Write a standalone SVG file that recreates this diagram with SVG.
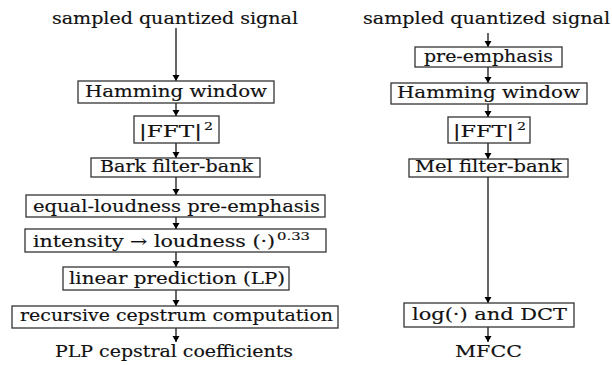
<svg xmlns="http://www.w3.org/2000/svg" width="612" height="365" viewBox="0 0 612 365">
<defs>
<marker id="ah" markerUnits="userSpaceOnUse" markerWidth="8" markerHeight="8" refX="6" refY="3.5" orient="auto">
<path d="M0,0 L6,3.5 L0,7 Z" fill="#000"/>
</marker>
</defs>
<style>
text{font-family:'DejaVu Serif','Liberation Serif',serif;font-size:16px;fill:#111;stroke:#111;stroke-width:0.15;}
.sup{font-size:11px;}
rect{fill:#fff;stroke:#333;stroke-width:1.3;}
.c line{stroke:#000;stroke-width:1.2;marker-end:url(#ah);}
</style>
<rect x="0" y="0" width="612" height="365" style="fill:#fff;stroke:none"/>
<g class="c" id="connectors">
<line x1="176" y1="28" x2="176" y2="81"/>
<line x1="176" y1="103" x2="176" y2="116"/>
<line x1="176" y1="143" x2="176" y2="158"/>
<line x1="176" y1="177" x2="176" y2="195"/>
<line x1="176" y1="217" x2="176" y2="229"/>
<line x1="176" y1="252" x2="176" y2="267"/>
<line x1="176" y1="290" x2="176" y2="306"/>
<line x1="176" y1="328" x2="176" y2="342"/>
<line x1="488" y1="33" x2="488" y2="47"/>
<line x1="488" y1="67" x2="488" y2="83"/>
<line x1="488" y1="104" x2="488" y2="117"/>
<line x1="488" y1="143" x2="488" y2="159"/>
<line x1="488" y1="177" x2="488" y2="303"/>
<line x1="488" y1="327" x2="488" y2="342"/>
</g>
<g id="left-input"><text x="52" y="24" textLength="246" lengthAdjust="spacingAndGlyphs">sampled quantized signal</text></g>
<g id="left-hamming"><rect x="78" y="81" width="196" height="22"/><text x="85" y="97" textLength="182" lengthAdjust="spacingAndGlyphs">Hamming window</text></g>
<g id="left-fft"><rect x="134" y="116" width="85" height="27"/><text x="139" y="137" textLength="63" lengthAdjust="spacingAndGlyphs">|FFT|</text><text class="sup" x="204" y="130" textLength="9" lengthAdjust="spacingAndGlyphs">2</text></g>
<g id="left-bark"><rect x="91" y="158" width="169" height="19"/><text x="100" y="172" textLength="153" lengthAdjust="spacingAndGlyphs">Bark filter-bank</text></g>
<g id="left-equal"><rect x="26" y="195" width="299" height="22"/><text x="33" y="212" textLength="287" lengthAdjust="spacingAndGlyphs">equal-loudness pre-emphasis</text></g>
<g id="left-intensity"><rect x="25" y="229" width="301" height="23"/><text x="33" y="247" textLength="242" lengthAdjust="spacingAndGlyphs">intensity → loudness (·)</text><text class="sup" x="277" y="240" textLength="33" lengthAdjust="spacingAndGlyphs">0.33</text></g>
<g id="left-lp"><rect x="63" y="267" width="226" height="23"/><text x="69" y="284" textLength="216" lengthAdjust="spacingAndGlyphs">linear prediction (LP)</text></g>
<g id="left-cepstrum"><rect x="12" y="306" width="326" height="22"/><text x="20" y="321" textLength="313" lengthAdjust="spacingAndGlyphs">recursive cepstrum computation</text></g>
<g id="left-output"><text x="55" y="357" textLength="238" lengthAdjust="spacingAndGlyphs">PLP cepstral coefficients</text></g>
<g id="right-input"><text x="363" y="24" textLength="247" lengthAdjust="spacingAndGlyphs">sampled quantized signal</text></g>
<g id="right-preemph"><rect x="415" y="47" width="147" height="20"/><text x="424" y="62" textLength="129" lengthAdjust="spacingAndGlyphs">pre-emphasis</text></g>
<g id="right-hamming"><rect x="391" y="83" width="196" height="21"/><text x="397" y="98" textLength="183" lengthAdjust="spacingAndGlyphs">Hamming window</text></g>
<g id="right-fft"><rect x="448" y="117" width="82" height="26"/><text x="453" y="137" textLength="61" lengthAdjust="spacingAndGlyphs">|FFT|</text><text class="sup" x="517" y="130" textLength="9" lengthAdjust="spacingAndGlyphs">2</text></g>
<g id="right-mel"><rect x="409" y="159" width="159" height="18"/><text x="415" y="172" textLength="147" lengthAdjust="spacingAndGlyphs">Mel filter-bank</text></g>
<g id="right-logdct"><rect x="404" y="303" width="170" height="24"/><text x="412" y="320" textLength="155" lengthAdjust="spacingAndGlyphs">log(·) and DCT</text></g>
<g id="right-output"><text x="455" y="357" textLength="67" lengthAdjust="spacingAndGlyphs">MFCC</text></g>
</svg>
